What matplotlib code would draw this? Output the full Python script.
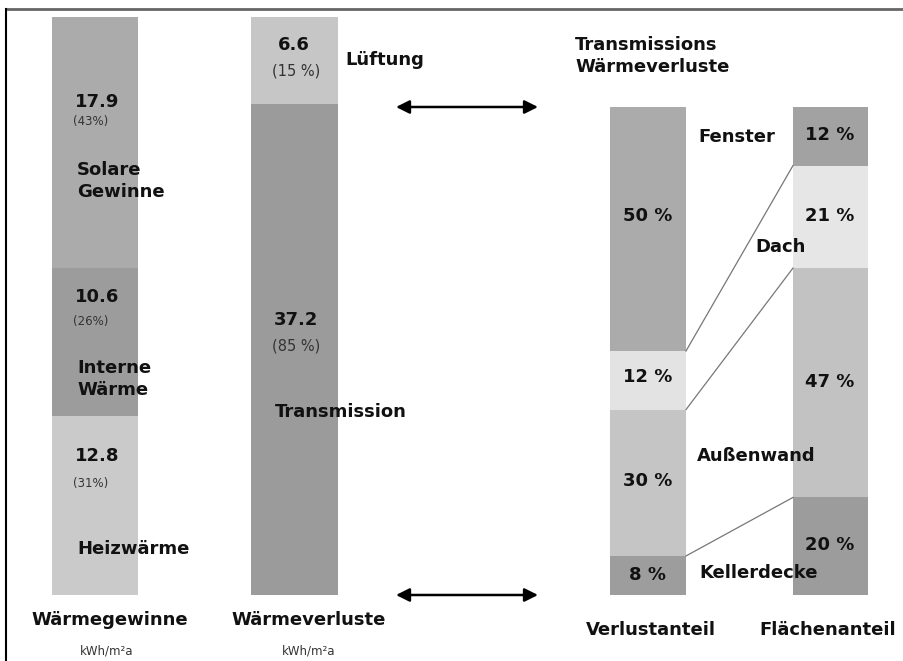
import numpy as np
import matplotlib.pyplot as plt
from matplotlib.patches import FancyArrowPatch

# data
gewinne_labels = ["Solare\nGewinne", "Interne\nWärme", "Heizwärme"]
gewinne_values = [17.9, 10.6, 12.8]
gewinne_pct = ["(43%)", "(26%)", "(31%)"]
gewinne_colors = ["#ababab", "#9c9c9c", "#cacaca"]

verluste_labels = ["Lüftung", "Transmission"]
verluste_values = [6.6, 37.2]
verluste_pct = ["(15 %)", "(85 %)"]
verluste_colors = ["#c6c6c6", "#9b9b9b"]

bauteile = ["Fenster", "Dach", "Außenwand", "Kellerdecke"]
verlustanteil = [50, 12, 30, 8]
flaechenanteil = [12, 21, 47, 20]
verlust_colors = ["#ababab", "#e3e3e3", "#c5c5c5", "#9d9d9d"]
flaeche_colors = ["#a2a2a2", "#e6e6e6", "#c2c2c2", "#9c9c9c"]

W, H = 904, 661
fig = plt.figure(figsize=(W / 100, H / 100), dpi=100)
ax = fig.add_axes([0, 0, 1, 1])
ax.set_xlim(0, W)
ax.set_ylim(H, 0)
ax.axis('off')

FONT = "DejaVu Sans"


def stack(ax, xl, xr, top, bottom, values, colors):
    vals = np.array(values, dtype=float)
    h = vals / vals.sum() * (bottom - top)
    starts = top + np.concatenate([[0], np.cumsum(h)[:-1]])
    ax.bar((xl + xr) / 2, h, bottom=starts, width=xr - xl, color=colors,
           edgecolor='none', zorder=2)
    return starts + h  # lower boundaries of each segment


b1 = stack(ax, 52, 138, 17, 595, gewinne_values, gewinne_colors)
b2 = stack(ax, 251, 338, 17, 595, verluste_values, verluste_colors)
b3 = stack(ax, 610, 686, 107, 595, verlustanteil, verlust_colors)
b4 = stack(ax, 793, 868, 107, 595, flaechenanteil, flaeche_colors)

# connector lines between the two percentage bars
for i in range(len(bauteile) - 1):
    ax.plot([686, 793], [b3[i], b4[i]], color='#777777', lw=0.9, zorder=3)

big = dict(fontsize=13, fontweight='bold', family=FONT, color='#111111', zorder=5)
small = dict(fontsize=8.5, family=FONT, color='#333333', zorder=5)
mid = dict(fontsize=10.5, family=FONT, color='#333333', zorder=5)

# bar 1 texts
num_y = [102, 297, 456]
pct_y = [122, 322, 483]
lab_y = [181, 379, 549]
for i in range(3):
    ax.text(75, num_y[i], f"{gewinne_values[i]:.1f}", ha='left', va='center', **big)
    ax.text(73, pct_y[i], gewinne_pct[i], ha='left', va='center', **small)
    ax.text(77, lab_y[i], gewinne_labels[i], ha='left', va='center',
            linespacing=1.25, **big)

# bar 2 texts
ax.text(294, 45, f"{verluste_values[0]:.1f}", ha='center', va='center', **big)
ax.text(296, 71, verluste_pct[0], ha='center', va='center', **mid)
ax.text(345, 60, verluste_labels[0], ha='left', va='center', **big)
ax.text(296, 320, f"{verluste_values[1]:.1f}", ha='center', va='center', **big)
ax.text(296, 346, verluste_pct[1], ha='center', va='center', **mid)
ax.text(275, 412, verluste_labels[1], ha='left', va='center', **big)

# arrows
for y in [107, 595]:
    ax.add_patch(FancyArrowPatch((396, y), (538, y), arrowstyle='<|-|>',
                                 mutation_scale=20, color='black', lw=1.8,
                                 shrinkA=0, shrinkB=0, zorder=4))

ax.text(575, 56, "Transmissions\nWärmeverluste", ha='left', va='center',
        linespacing=1.3, **big)

# percentage labels
b3_y = [216, 377, 481, 575]
b4_y = [135, 216, 382, 545]
for i in range(4):
    ax.text(648, b3_y[i], f"{verlustanteil[i]} %", ha='center', va='center', **big)
    ax.text(830, b4_y[i], f"{flaechenanteil[i]} %", ha='center', va='center', **big)

name_xy = [(698, 137), (755, 247), (697, 456), (699, 573)]
for name, (x, y) in zip(bauteile, name_xy):
    ax.text(x, y, name, ha='left', va='center', **big)

# bottom labels
ax.text(110, 620, "Wärmegewinne", ha='center', va='center', **big)
ax.text(107, 651, "kWh/m²a", ha='center', va='center', **small)
ax.text(309, 620, "Wärmeverluste", ha='center', va='center', **big)
ax.text(309, 651, "kWh/m²a", ha='center', va='center', **small)
ax.text(651, 630, "Verlustanteil", ha='center', va='center', **big)
ax.text(828, 630, "Flächenanteil", ha='center', va='center', **big)

# frame lines
ax.plot([6, W], [9, 9], color='#666666', lw=2, zorder=6)
ax.plot([6, 6], [9, H], color='black', lw=1.5, zorder=6)

fig.savefig("out.png", dpi=100)
